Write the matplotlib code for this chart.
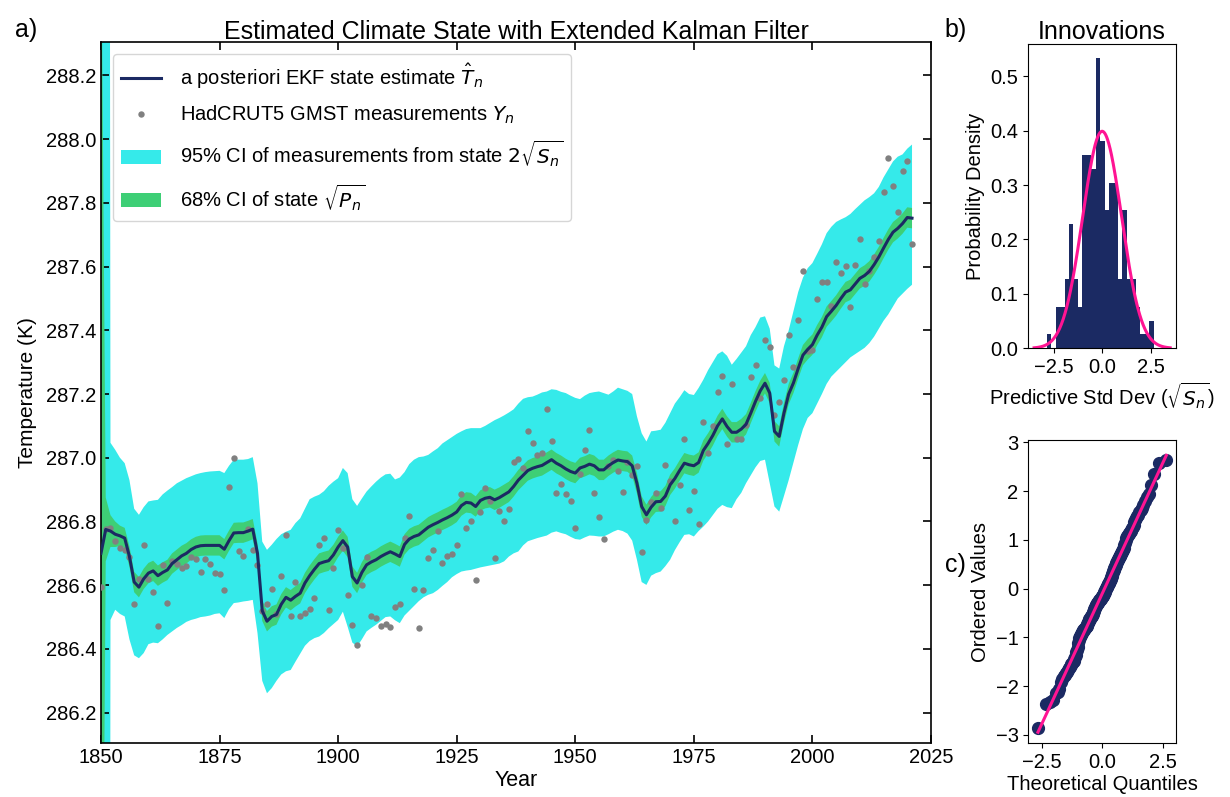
import numpy as np
import matplotlib
matplotlib.use("Agg")
import matplotlib.pyplot as plt
from matplotlib.lines import Line2D
from matplotlib.patches import Patch
from statistics import NormalDist

plt.rcParams['font.family'] = ['Liberation Sans', 'DejaVu Sans']

# ---------------- data ----------------
years = list(range(1850, 2022))

state = [
 286.700, 286.775, 286.770, 286.760, 286.755, 286.748, 286.690, 286.610, 286.594, 286.620,
 286.638, 286.645, 286.630, 286.640, 286.648, 286.668, 286.680, 286.692, 286.700, 286.712,
 286.720, 286.724, 286.725, 286.725, 286.725, 286.725, 286.713, 286.740, 286.764, 286.765,
 286.765, 286.770, 286.776, 286.700, 286.520, 286.487, 286.502, 286.508, 286.540, 286.562,
 286.553, 286.565, 286.575, 286.607, 286.630, 286.650, 286.668, 286.673, 286.677, 286.695,
 286.720, 286.740, 286.720, 286.627, 286.607, 286.640, 286.664, 286.673, 286.680, 286.690,
 286.698, 286.705, 286.698, 286.690, 286.728, 286.745, 286.753, 286.758, 286.770, 286.782,
 286.790, 286.797, 286.805, 286.812, 286.820, 286.830, 286.850, 286.860, 286.858, 286.847,
 286.866, 286.873, 286.876, 286.868, 286.875, 286.884, 286.893, 286.910, 286.930, 286.945,
 286.960, 286.967, 286.972, 286.976, 286.985, 286.994, 286.983, 286.975, 286.965, 286.957,
 286.952, 286.968, 286.973, 286.980, 286.975, 286.962, 286.962, 286.975, 286.985, 286.993,
 286.990, 286.988, 286.975, 286.920, 286.847, 286.821, 286.845, 286.862, 286.863, 286.880,
 286.915, 286.935, 286.960, 286.983, 286.978, 286.975, 286.985, 287.023, 287.045, 287.070,
 287.100, 287.122, 287.098, 287.080, 287.080, 287.090, 287.105, 287.140, 287.177, 287.210,
 287.234, 287.203, 287.083, 287.067, 287.140, 287.200, 287.235, 287.280, 287.322, 287.340,
 287.355, 287.385, 287.410, 287.443, 287.460, 287.478, 287.500, 287.520, 287.527, 287.545,
 287.563, 287.572, 287.585, 287.606, 287.630, 287.658, 287.685, 287.708, 287.720, 287.735,
 287.754, 287.752]

measured = [
 286.595, 286.775, 286.779, 286.739, 286.718, 286.711, 286.690, 286.542, 286.620, 286.727,
 286.620, 286.579, 286.473, 286.665, 286.544, 286.677, 286.667, 286.654, 286.659, 286.690,
 286.682, 286.641, 286.682, 286.667, 286.638, 286.635, 286.585, 286.907, 286.998, 286.706,
 286.693, 286.777, 286.711, 286.663, 286.518, 286.540, 286.589, 286.509, 286.630, 286.758,
 286.504, 286.609, 286.502, 286.514, 286.525, 286.561, 286.725, 286.748, 286.523, 286.654,
 286.774, 286.716, 286.570, 286.475, 286.411, 286.601, 286.690, 286.505, 286.497, 286.473,
 286.478, 286.470, 286.533, 286.542, 286.747, 286.818, 286.589, 286.465, 286.586, 286.685,
 286.711, 286.769, 286.669, 286.692, 286.698, 286.727, 286.886, 286.779, 286.803, 286.615,
 286.831, 286.905, 286.863, 286.687, 286.834, 286.803, 286.839, 286.988, 286.997, 286.967,
 287.085, 287.046, 287.009, 287.015, 287.153, 287.053, 286.891, 286.917, 286.885, 286.865,
 286.781, 286.949, 287.025, 287.087, 286.891, 286.814, 286.746, 286.973, 286.992, 286.960,
 286.893, 286.988, 286.946, 286.973, 286.704, 286.805, 286.861, 286.891, 286.841, 286.976,
 286.926, 286.803, 286.915, 287.059, 286.837, 286.897, 286.793, 287.112, 287.015, 287.100,
 287.205, 287.257, 287.043, 287.231, 287.059, 287.059, 287.104, 287.253, 287.290, 287.189,
 287.370, 287.347, 287.134, 287.174, 287.243, 287.386, 287.286, 287.431, 287.585, 287.334,
 287.339, 287.497, 287.552, 287.552, 287.477, 287.614, 287.581, 287.601, 287.474, 287.605,
 287.688, 287.545, 287.585, 287.631, 287.681, 287.833, 287.940, 287.852, 287.771, 287.899,
 287.930, 287.671]

# 95% CI band edges (first two years are far off the chart)
ci95_upper = [
 300.000, 300.000, 287.047, 287.025, 287.000, 286.983, 286.930, 286.840, 286.821, 286.845,
 286.863, 286.866, 286.868, 286.885, 286.897, 286.908, 286.920, 286.928, 286.936, 286.942,
 286.948, 286.952, 286.955, 286.957, 286.958, 286.959, 286.952, 286.975, 286.994, 286.994,
 286.994, 286.996, 287.002, 286.920, 286.737, 286.711, 286.727, 286.745, 286.760, 286.768,
 286.774, 286.795, 286.810, 286.840, 286.870, 286.878, 286.884, 286.895, 286.912, 286.925,
 286.936, 286.968, 286.952, 286.870, 286.849, 286.872, 286.894, 286.910, 286.925, 286.938,
 286.948, 286.950, 286.932, 286.938, 286.955, 286.980, 286.994, 287.002, 287.004, 287.009,
 287.020, 287.030, 287.045, 287.055, 287.065, 287.075, 287.083, 287.090, 287.093, 287.093,
 287.093, 287.100, 287.109, 287.118, 287.125, 287.133, 287.142, 287.152, 287.170, 287.185,
 287.190, 287.192, 287.198, 287.205, 287.208, 287.215, 287.213, 287.207, 287.203, 287.195,
 287.188, 287.184, 287.195, 287.203, 287.206, 287.208, 287.203, 287.198, 287.208, 287.220,
 287.215, 287.210, 287.200, 287.130, 287.077, 287.051, 287.083, 287.085, 287.088, 287.110,
 287.140, 287.170, 287.190, 287.212, 287.200, 287.197, 287.219, 287.245, 287.275, 287.300,
 287.325, 287.334, 287.320, 287.292, 287.310, 287.330, 287.350, 287.385, 287.410, 287.440,
 287.444, 287.405, 287.290, 287.280, 287.350, 287.400, 287.460, 287.520, 287.565, 287.595,
 287.611, 287.640, 287.670, 287.705, 287.725, 287.740, 287.748, 287.755, 287.765, 287.780,
 287.794, 287.808, 287.818, 287.830, 287.850, 287.880, 287.905, 287.930, 287.945, 287.952,
 287.970, 287.983]

ci95_lower = [
 273.000, 273.000, 286.491, 286.523, 286.510, 286.502, 286.430, 286.380, 286.371, 286.387,
 286.415, 286.420, 286.418, 286.430, 286.444, 286.455, 286.466, 286.475, 286.485, 286.491,
 286.495, 286.500, 286.502, 286.505, 286.510, 286.512, 286.497, 286.525, 286.544, 286.546,
 286.549, 286.551, 286.554, 286.450, 286.300, 286.261, 286.277, 286.300, 286.320, 286.330,
 286.334, 286.360, 286.385, 286.410, 286.425, 286.434, 286.439, 286.450, 286.465, 286.478,
 286.491, 286.517, 286.470, 286.420, 286.408, 286.430, 286.455, 286.466, 286.476, 286.488,
 286.500, 286.502, 286.490, 286.481, 286.505, 286.520, 286.535, 286.550, 286.562, 286.570,
 286.575, 286.585, 286.598, 286.610, 286.625, 286.635, 286.643, 286.646, 286.648, 286.652,
 286.656, 286.659, 286.662, 286.665, 286.668, 286.675, 286.690, 286.700, 286.706, 286.725,
 286.738, 286.743, 286.748, 286.752, 286.756, 286.765, 286.769, 286.764, 286.760, 286.752,
 286.745, 286.743, 286.750, 286.756, 286.755, 286.753, 286.753, 286.760, 286.768, 286.774,
 286.770, 286.762, 286.740, 286.680, 286.610, 286.601, 286.630, 286.638, 286.643, 286.660,
 286.680, 286.710, 286.735, 286.758, 286.760, 286.753, 286.770, 286.784, 286.800, 286.820,
 286.840, 286.852, 286.845, 286.842, 286.870, 286.890, 286.920, 286.945, 286.970, 286.990,
 286.994, 286.920, 286.847, 286.831, 286.880, 286.930, 286.985, 287.040, 287.090, 287.125,
 287.140, 287.170, 287.200, 287.232, 287.255, 287.270, 287.285, 287.300, 287.315, 287.325,
 287.335, 287.345, 287.360, 287.380, 287.405, 287.430, 287.450, 287.475, 287.500, 287.515,
 287.530, 287.543]

# 1-sigma state uncertainty sqrt(P_n): large at start, then steady
state_sd = [2.1, 0.10, 0.05, 0.04] + [0.032] * 168

# standardized innovations (sorted)
innovations = [
 -2.85,
 -2.36, -2.33, -2.28,
 -2.14, -2.11, -2.06,
 -1.92, -1.85, -1.80, -1.76, -1.72,
 -1.70, -1.66, -1.63, -1.60, -1.57, -1.55, -1.52, -1.50, -1.48,
 -1.45, -1.40, -1.35, -1.30, -1.26,
 -1.20, -1.12, -1.05,
 -1.01, -0.99, -0.97, -0.95, -0.93, -0.91, -0.89, -0.87, -0.85, -0.84, -0.82, -0.81, -0.80, -0.79,
 -0.78, -0.76, -0.74, -0.72, -0.70, -0.68, -0.66, -0.65, -0.63, -0.62, -0.60, -0.59, -0.58, -0.56,
 -0.55, -0.53, -0.51, -0.49, -0.47, -0.45, -0.43, -0.41, -0.39, -0.37, -0.36, -0.34, -0.33,
 -0.32, -0.31, -0.30, -0.29, -0.28, -0.27, -0.26, -0.25, -0.24, -0.23, -0.22, -0.21, -0.20, -0.19,
 -0.18, -0.17, -0.15, -0.14, -0.13, -0.12, -0.11,
 -0.09, -0.07, -0.06, -0.04, -0.02, 0.00, 0.01, 0.03, 0.04, 0.06, 0.07, 0.09, 0.10, 0.11, 0.12,
 0.14, 0.16, 0.18, 0.20, 0.22, 0.24, 0.26, 0.29, 0.31, 0.34,
 0.37, 0.39, 0.41, 0.43, 0.45, 0.47, 0.49, 0.51, 0.53, 0.55, 0.57, 0.58,
 0.60, 0.62, 0.64, 0.66, 0.68, 0.70, 0.72, 0.74, 0.76, 0.78, 0.80, 0.81,
 0.84, 0.89, 0.94, 0.99, 1.03,
 1.06, 1.08, 1.10, 1.12, 1.14, 1.16, 1.18, 1.21, 1.24, 1.27,
 1.30, 1.36, 1.41, 1.45, 1.49,
 1.52, 1.57, 1.62, 1.66, 1.71,
 1.79, 1.87, 1.94,
 2.12,
 2.35,
 2.58, 2.64]

# ---------------- style ----------------
NAVY = '#1b2a63'
CYAN = '#35eaea'
GREEN = '#3ecf76'
PINK = '#ff1493'
FS = 14.5
TFS = 18

fig = plt.figure(figsize=(12.3, 7.97), dpi=100)
ax = fig.add_axes([0.0821, 0.0678, 0.6748, 0.8796])
axb = fig.add_axes([0.836, 0.563, 0.1201, 0.3818])
axc = fig.add_axes([0.836, 0.0674, 0.1201, 0.3806])

yrs = np.array(years, dtype=float)
st = np.array(state)
sd = np.array(state_sd)

ax.fill_between(yrs, ci95_lower, ci95_upper, color=CYAN, linewidth=0, zorder=1)
ax.fill_between(yrs, st - sd, st + sd, color=GREEN, linewidth=0, zorder=2)
ax.plot(yrs, measured, 'o', color='gray', ms=4.6, mec='none', zorder=3)
ax.plot(yrs, st, color=NAVY, lw=2.2, zorder=4)

ax.set_xlim(1850, 2025)
ax.set_ylim(286.105, 288.305)
ax.set_xticks(np.arange(1850, 2026, 25))
ytk = np.round(np.arange(286.2, 288.21, 0.2), 1)
ax.set_yticks(ytk)
ax.set_yticklabels([f'{v:.1f}' for v in ytk])
ax.tick_params(direction='in', top=True, right=True, labelsize=FS, length=6, width=1.2)
for s in ax.spines.values():
    s.set_linewidth(1.2)
ax.set_xlabel('Year', fontsize=15.5, labelpad=2)
ax.set_ylabel('Temperature (K)', fontsize=15, labelpad=6)
ax.set_title('Estimated Climate State with Extended Kalman Filter', fontsize=TFS, pad=2)

handles = [
    Line2D([], [], color=NAVY, lw=2.2),
    Line2D([], [], marker='o', ls='none', color='gray', ms=4.6, mec='none'),
    Patch(facecolor=CYAN, edgecolor='none'),
    Patch(facecolor=GREEN, edgecolor='none'),
]
labels = [
    r'a posteriori EKF state estimate $\hat{T}_n$',
    r'HadCRUT5 GMST measurements $Y_n$',
    r'95% CI of measurements from state $2\sqrt{S_n}$',
    r'68% CI of state $\sqrt{P_n}$',
]
ax.legend(handles, labels, loc='upper left', fontsize=FS, framealpha=0.8,
          borderaxespad=0.6, labelspacing=0.62, handlelength=2.0, handletextpad=0.9)

# ---------------- b) histogram ----------------
inn = np.array(innovations)
edges = np.linspace(-2.85, 2.65, 25)
axb.hist(inn, bins=edges, density=True, color=NAVY)
xs = np.linspace(-3.5, 3.5, 300)
axb.plot(xs, np.exp(-xs**2 / 2) / np.sqrt(2 * np.pi), color=PINK, lw=2.2)
axb.set_xlim(-3.8, 3.8)
axb.set_xticks([-2.5, 0.0, 2.5])
axb.set_yticks([0.0, 0.1, 0.2, 0.3, 0.4, 0.5])
axb.tick_params(labelsize=FS)
axb.set_title('Innovations', fontsize=TFS, pad=2)
axb.set_ylabel('Probability Density', fontsize=FS)
axb.set_xlabel(r'Predictive Std Dev ($\sqrt{S_n}$)', fontsize=FS, labelpad=2)

# ---------------- c) QQ plot ----------------
n = len(inn)
nd = NormalDist()
m = [(i - 0.3175) / (n + 0.365) for i in range(1, n + 1)]
m[-1] = 0.5 ** (1.0 / n)
m[0] = 1 - m[-1]
osm = np.array([nd.inv_cdf(p) for p in m])
osr = np.sort(inn)
slope, intercept = np.polyfit(osm, osr, 1)
axc.plot(osm, osr, 'o', color=NAVY, ms=8.5)
axc.plot(osm, slope * osm + intercept, color=PINK, lw=2.2)
axc.set_xlim(-3.05, 3.05)
axc.set_ylim(-3.17, 3.05)
axc.set_xticks([-2.5, 0.0, 2.5])
axc.set_yticks([-3, -2, -1, 0, 1, 2, 3])
axc.tick_params(labelsize=FS)
axc.set_xlabel('Theoretical Quantiles', fontsize=FS, labelpad=2)
axc.set_ylabel('Ordered Values', fontsize=FS)

fig.text(0.021, 0.962, 'a)', fontsize=TFS, ha='center', va='center')
fig.text(0.777, 0.962, 'b)', fontsize=TFS, ha='center', va='center')
fig.text(0.777, 0.291, 'c)', fontsize=TFS, ha='center', va='center')

fig.savefig('out.png', dpi=100)
